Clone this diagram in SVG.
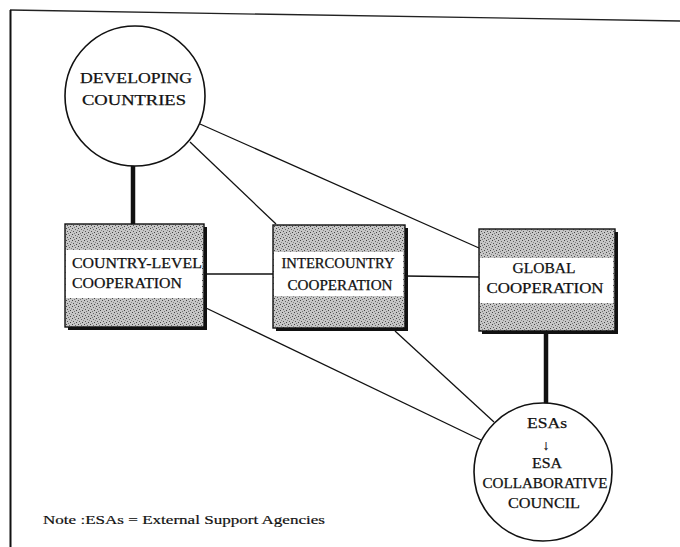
<svg xmlns="http://www.w3.org/2000/svg" width="680" height="547" viewBox="0 0 680 547">
<style>
.t{font-family:"Liberation Serif","DejaVu Serif",serif;font-size:14px;fill:#111;stroke:#111;stroke-width:0.25;text-anchor:middle}
.n{font-family:"Liberation Serif","DejaVu Serif",serif;font-size:13px;fill:#111;stroke:#111;stroke-width:0.2}
.c{fill:#fff;stroke:#111;stroke-width:1.6}
.box{fill:url(#dots);stroke:#111;stroke-width:1.4}
.sh{fill:#111}
.band{fill:#fff}
.ln{stroke:#111;stroke-width:1.3;fill:none}
.thick{stroke:#111;stroke-width:4.5;fill:none}
</style>
<defs>
<pattern id="dots" width="6" height="6" patternUnits="userSpaceOnUse">
<rect width="6" height="6" fill="#c6c6c6"/>
<rect x="0" y="0" width="1" height="1" fill="#444"/>
<rect x="3" y="1" width="1" height="1" fill="#666"/>
<rect x="1" y="3" width="1" height="1" fill="#555"/>
<rect x="4" y="4" width="1" height="1" fill="#444"/>
<rect x="2" y="5" width="1" height="1" fill="#777"/>
<rect x="5" y="2" width="1" height="1" fill="#888"/>
</pattern>
</defs>
<rect width="680" height="547" fill="#fff"/>
<g id="frame">
<line x1="10" y1="10" x2="680" y2="21" stroke="#222" stroke-width="1.3"/>
<line x1="10.5" y1="10" x2="10.5" y2="547" stroke="#111" stroke-width="2"/>
</g>
<g id="connectors">
<line class="thick" x1="133" y1="165" x2="133" y2="224"/>
<line class="ln" x1="190" y1="142" x2="276" y2="224"/>
<line class="ln" x1="200" y1="124" x2="479" y2="248"/>
<line class="ln" x1="204" y1="274" x2="273" y2="274"/>
<line class="ln" x1="405" y1="276" x2="479" y2="277"/>
<line class="thick" x1="546" y1="331" x2="546" y2="404"/>
<line class="ln" x1="395" y1="331" x2="494" y2="422"/>
<line class="ln" x1="206" y1="308" x2="481" y2="440"/>
</g>
<g id="developing">
<circle class="c" cx="135" cy="96" r="70"/>
<text class="t" x="136" y="83" textLength="112" lengthAdjust="spacingAndGlyphs">DEVELOPING</text>
<text class="t" x="134" y="105" textLength="104" lengthAdjust="spacingAndGlyphs">COUNTRIES</text>
</g>
<g id="country">
<rect class="sh" x="68" y="227" width="139" height="103"/>
<rect class="box" x="65" y="224" width="139" height="103"/>
<rect class="band" x="66" y="250" width="136" height="48"/>
<text class="t" x="137" y="268" textLength="130" lengthAdjust="spacingAndGlyphs">COUNTRY-LEVEL</text>
<text class="t" x="127" y="288" textLength="110" lengthAdjust="spacingAndGlyphs">COOPERATION</text>
</g>
<g id="intercountry">
<rect class="sh" x="276" y="228" width="132" height="103"/>
<rect class="box" x="273" y="225" width="132" height="103"/>
<rect class="band" x="274" y="252" width="129" height="44"/>
<text class="t" x="338" y="268" textLength="113" lengthAdjust="spacingAndGlyphs">INTERCOUNTRY</text>
<text class="t" x="340" y="290" textLength="105" lengthAdjust="spacingAndGlyphs">COOPERATION</text>
</g>
<g id="global">
<rect class="sh" x="482" y="232" width="136" height="102"/>
<rect class="box" x="479" y="229" width="136" height="102"/>
<rect class="band" x="480" y="258" width="133" height="45"/>
<text class="t" x="544" y="273" textLength="63" lengthAdjust="spacingAndGlyphs">GLOBAL</text>
<text class="t" x="545" y="293" textLength="117" lengthAdjust="spacingAndGlyphs">COOPERATION</text>
</g>
<g id="esa">
<circle class="c" cx="543" cy="472" r="69"/>
<text class="t" x="547" y="428" textLength="40" lengthAdjust="spacingAndGlyphs">ESAs</text>
<text class="t" x="546" y="450" font-size="16">↓</text>
<text class="t" x="547" y="468" textLength="30" lengthAdjust="spacingAndGlyphs">ESA</text>
<text class="t" x="545" y="488" textLength="125" lengthAdjust="spacingAndGlyphs">COLLABORATIVE</text>
<text class="t" x="544" y="508" textLength="72" lengthAdjust="spacingAndGlyphs">COUNCIL</text>
</g>
<g id="note">
<text class="n" x="43" y="524" textLength="282" lengthAdjust="spacingAndGlyphs">Note :ESAs = External Support Agencies</text>
</g>
</svg>
